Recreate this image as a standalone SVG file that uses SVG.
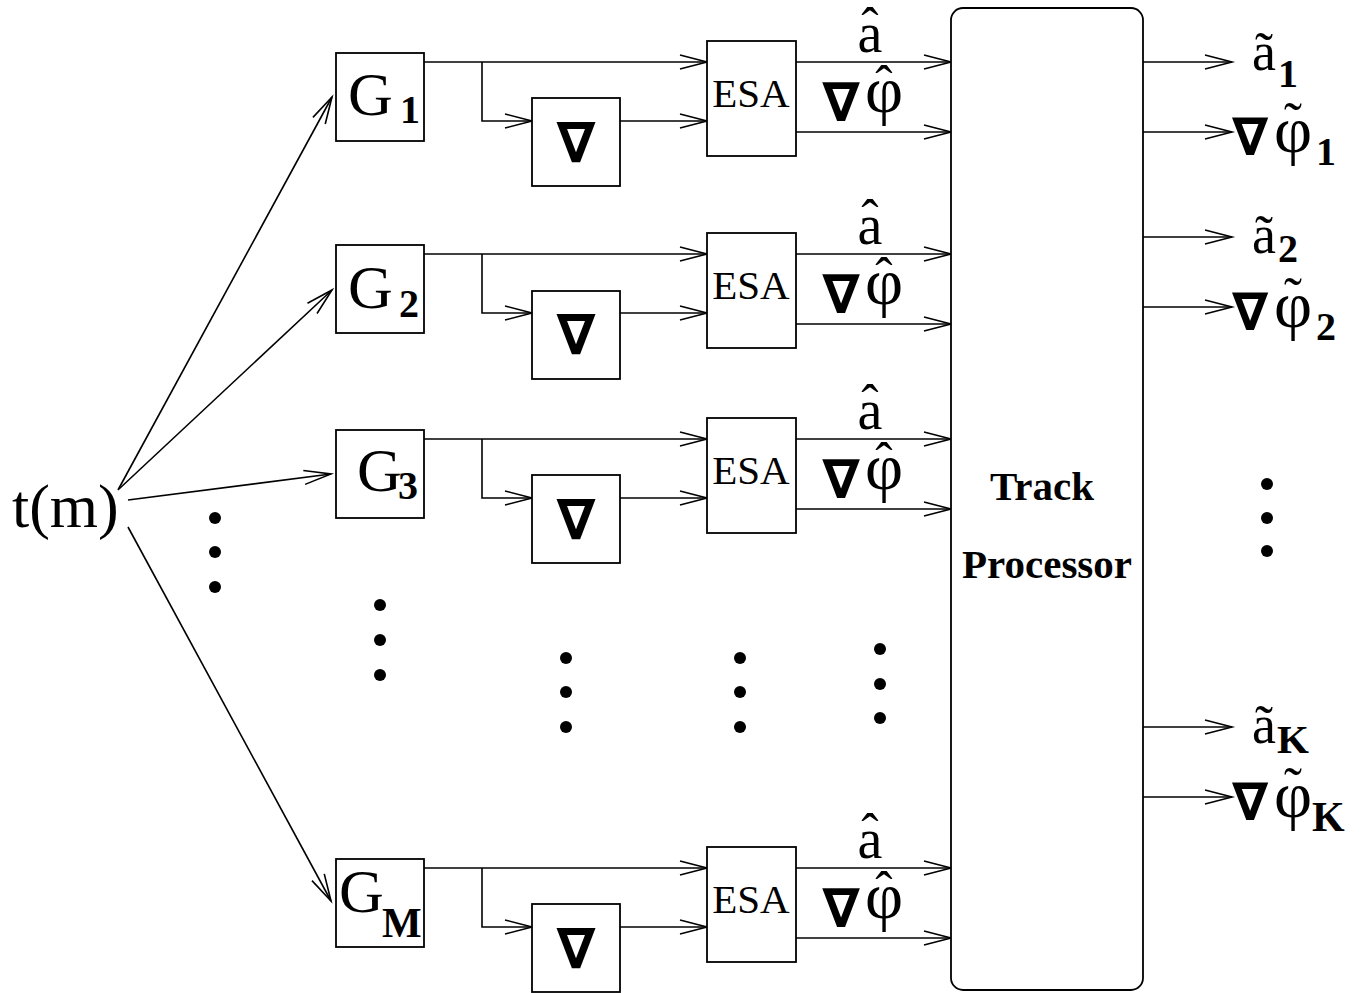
<svg xmlns="http://www.w3.org/2000/svg" width="1364" height="993" viewBox="0 0 1364 993">
<defs>
<marker id="arr" viewBox="-30 -10 32 20" markerWidth="32" markerHeight="20" refX="0" refY="0" markerUnits="userSpaceOnUse" orient="auto" overflow="visible">
<path d="M-27,-7 L0,0 L-27,7" fill="none" stroke="#000" stroke-width="1.6"/>
</marker>
<style>
.bx{fill:#fff;stroke:#000;stroke-width:1.8}
.ln{fill:none;stroke:#000;stroke-width:1.6;marker-end:url(#arr)}
.tm{font-family:"Liberation Serif","Times New Roman",serif;fill:#000}
.bd{font-family:"Liberation Serif","Times New Roman",serif;font-weight:bold;fill:#000}
.nb{font-family:"DejaVu Sans",sans-serif;font-weight:bold;fill:#000;text-anchor:middle}
.dot{fill:#000}
</style>
</defs>
<rect width="1364" height="993" fill="#fff"/>

<g id="connectors">
<path class="ln" d="M118,490 L332,97"/>
<path class="ln" d="M119,489 L332,290"/>
<path class="ln" d="M128,500 L331,474"/>
<path class="ln" d="M128,527 L331,901"/>
<path class="ln" d="M424,62 H707"/>
<path class="ln" d="M482,62 V121 H532"/>
<path class="ln" d="M620,121 H707"/>
<path class="ln" d="M796,62 H951"/>
<path class="ln" d="M796,132 H951"/>
<path class="ln" d="M424,254 H707"/>
<path class="ln" d="M482,254 V313 H532"/>
<path class="ln" d="M620,313 H707"/>
<path class="ln" d="M796,254 H951"/>
<path class="ln" d="M796,324 H951"/>
<path class="ln" d="M424,439 H707"/>
<path class="ln" d="M482,439 V498 H532"/>
<path class="ln" d="M620,498 H707"/>
<path class="ln" d="M796,439 H951"/>
<path class="ln" d="M796,509 H951"/>
<path class="ln" d="M424,868 H707"/>
<path class="ln" d="M482,868 V927 H532"/>
<path class="ln" d="M620,927 H707"/>
<path class="ln" d="M796,868 H951"/>
<path class="ln" d="M796,938 H951"/>
<path class="ln" d="M1143,62 H1232"/>
<path class="ln" d="M1143,132 H1232"/>
<path class="ln" d="M1143,237 H1232"/>
<path class="ln" d="M1143,307 H1232"/>
<path class="ln" d="M1143,727 H1232"/>
<path class="ln" d="M1143,797 H1232"/>
</g>

<g id="input">
<text class="tm" x="12" y="527" font-size="62">t(m)</text>
</g>

<g id="G1">
<rect class="bx" x="336" y="53" width="88" height="88"/>
<text class="tm" x="348" y="115" font-size="62">G</text>
<text class="bd" x="400" y="123" font-size="40">1</text>
</g>
<g id="grad1">
<rect class="bx" x="532" y="98" width="88" height="88"/>
<text class="nb" x="576" y="162" font-size="56">∇</text>
</g>
<g id="ESA1">
<rect class="bx" x="707" y="41" width="89" height="115"/>
<text class="tm" x="751" y="107" font-size="41" text-anchor="middle">ESA</text>
</g>
<g id="labels1">
<text class="tm" x="870" y="52" font-size="56" text-anchor="middle">a</text>
<text class="tm" x="870" y="44" font-size="52" text-anchor="middle">ˆ</text>
<text class="nb" x="841" y="121" font-size="54">∇</text>
<text class="tm" x="884" y="112" font-size="66" text-anchor="middle">φ</text>
<text class="tm" x="884" y="102" font-size="52" text-anchor="middle">ˆ</text>
</g>

<g id="G2">
<rect class="bx" x="336" y="245" width="88" height="88"/>
<text class="tm" x="348" y="308" font-size="62">G</text>
<text class="bd" x="399" y="317" font-size="40">2</text>
</g>
<g id="grad2">
<rect class="bx" x="532" y="291" width="88" height="88"/>
<text class="nb" x="576" y="354" font-size="56">∇</text>
</g>
<g id="ESA2">
<rect class="bx" x="707" y="233" width="89" height="115"/>
<text class="tm" x="751" y="299" font-size="41" text-anchor="middle">ESA</text>
</g>
<g id="labels2">
<text class="tm" x="870" y="244" font-size="56" text-anchor="middle">a</text>
<text class="tm" x="870" y="236" font-size="52" text-anchor="middle">ˆ</text>
<text class="nb" x="841" y="313" font-size="54">∇</text>
<text class="tm" x="884" y="304" font-size="66" text-anchor="middle">φ</text>
<text class="tm" x="884" y="294" font-size="52" text-anchor="middle">ˆ</text>
</g>

<g id="G3">
<rect class="bx" x="336" y="430" width="88" height="88"/>
<text class="tm" x="357" y="491" font-size="62">G</text>
<text class="bd" x="398" y="499" font-size="40">3</text>
</g>
<g id="grad3">
<rect class="bx" x="532" y="475" width="88" height="88"/>
<text class="nb" x="576" y="539" font-size="56">∇</text>
</g>
<g id="ESA3">
<rect class="bx" x="707" y="418" width="89" height="115"/>
<text class="tm" x="751" y="484" font-size="41" text-anchor="middle">ESA</text>
</g>
<g id="labels3">
<text class="tm" x="870" y="429" font-size="56" text-anchor="middle">a</text>
<text class="tm" x="870" y="421" font-size="52" text-anchor="middle">ˆ</text>
<text class="nb" x="841" y="498" font-size="54">∇</text>
<text class="tm" x="884" y="489" font-size="66" text-anchor="middle">φ</text>
<text class="tm" x="884" y="479" font-size="52" text-anchor="middle">ˆ</text>
</g>

<g id="GM">
<rect class="bx" x="336" y="859" width="88" height="88"/>
<text class="tm" x="339" y="912" font-size="62">G</text>
<text class="bd" x="382" y="937" font-size="42">M</text>
</g>
<g id="gradM">
<rect class="bx" x="532" y="904" width="88" height="88"/>
<text class="nb" x="576" y="968" font-size="56">∇</text>
</g>
<g id="ESAM">
<rect class="bx" x="707" y="847" width="89" height="115"/>
<text class="tm" x="751" y="913" font-size="41" text-anchor="middle">ESA</text>
</g>
<g id="labelsM">
<text class="tm" x="870" y="858" font-size="56" text-anchor="middle">a</text>
<text class="tm" x="870" y="850" font-size="52" text-anchor="middle">ˆ</text>
<text class="nb" x="841" y="927" font-size="54">∇</text>
<text class="tm" x="884" y="918" font-size="66" text-anchor="middle">φ</text>
<text class="tm" x="884" y="908" font-size="52" text-anchor="middle">ˆ</text>
</g>

<g id="track">
<rect class="bx" x="951" y="8" width="192" height="982" rx="12" ry="12"/>
<text class="bd" x="1042" y="500" font-size="41" text-anchor="middle">Track</text>
<text class="bd" x="1047" y="578" font-size="41" text-anchor="middle">Processor</text>
</g>

<g id="outputs">
<text class="tm" x="1252" y="70" font-size="54">ã</text>
<text class="bd" x="1278" y="87" font-size="40">1</text>
<text class="nb" x="1250" y="155" font-size="52">∇</text>
<text class="tm" x="1293" y="152" font-size="66" text-anchor="middle">φ</text>
<text class="tm" x="1293" y="140" font-size="54" text-anchor="middle">˜</text>
<text class="bd" x="1316" y="165" font-size="40">1</text>

<text class="tm" x="1252" y="253" font-size="54">ã</text>
<text class="bd" x="1278" y="262" font-size="40">2</text>
<text class="nb" x="1250" y="330" font-size="52">∇</text>
<text class="tm" x="1293" y="327" font-size="66" text-anchor="middle">φ</text>
<text class="tm" x="1293" y="315" font-size="54" text-anchor="middle">˜</text>
<text class="bd" x="1316" y="340" font-size="40">2</text>

<text class="tm" x="1252" y="743" font-size="54">ã</text>
<text class="bd" x="1277" y="753" font-size="41">K</text>
<text class="nb" x="1250" y="820" font-size="52">∇</text>
<text class="tm" x="1293" y="817" font-size="66" text-anchor="middle">φ</text>
<text class="tm" x="1293" y="805" font-size="54" text-anchor="middle">˜</text>
<text class="bd" x="1312" y="831" font-size="42">K</text>
</g>

<g id="dots">
<circle class="dot" cx="215" cy="518" r="6"/>
<circle class="dot" cx="215" cy="552" r="6"/>
<circle class="dot" cx="215" cy="587" r="6"/>
<circle class="dot" cx="380" cy="605" r="6"/>
<circle class="dot" cx="380" cy="640" r="6"/>
<circle class="dot" cx="380" cy="675" r="6"/>
<circle class="dot" cx="566" cy="658" r="6"/>
<circle class="dot" cx="566" cy="692" r="6"/>
<circle class="dot" cx="566" cy="727" r="6"/>
<circle class="dot" cx="740" cy="658" r="6"/>
<circle class="dot" cx="740" cy="692" r="6"/>
<circle class="dot" cx="740" cy="727" r="6"/>
<circle class="dot" cx="880" cy="649" r="6"/>
<circle class="dot" cx="880" cy="684" r="6"/>
<circle class="dot" cx="880" cy="718" r="6"/>
<circle class="dot" cx="1267" cy="484" r="6"/>
<circle class="dot" cx="1267" cy="518" r="6"/>
<circle class="dot" cx="1267" cy="551" r="6"/>
</g>
</svg>
